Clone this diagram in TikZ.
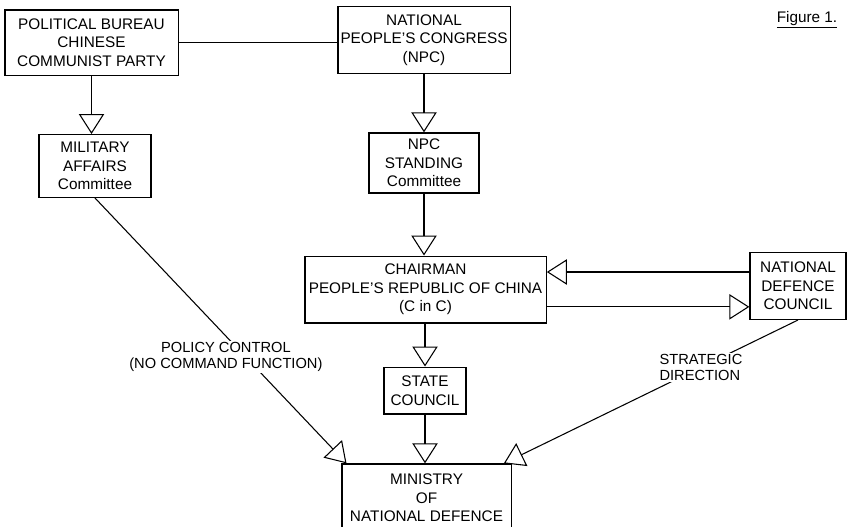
\documentclass[tikz,border=0pt]{standalone}
\usepackage{fontspec}
\setmainfont{Liberation Sans}
\usetikzlibrary{arrows.meta}

\begin{document}
\begin{tikzpicture}[x=0.75pt, y=-0.75pt, every node/.style={align=center, inner sep=2pt, font=\fontsize{11.5}{14}\selectfont}, line width=0.8pt, >={Triangle[open, length=15pt, width=19pt]}]

\tikzstyle{box}=[draw, line width=1pt]
\tikzstyle{lbl}=[fill=white, inner sep=1pt, font=\fontsize{11}{12}\selectfont]

\useasboundingbox (0,0) rectangle (848,526);

% top row
\node[box, minimum width=130pt, minimum height=49pt] (pb) at (91.5,42.5) {POLITICAL BUREAU\\CHINESE\\COMMUNIST PARTY};
\node[box, minimum width=129pt, minimum height=50pt] (npc) at (424,40) {NATIONAL\\PEOPLE'S CONGRESS\\(NPC)};
\node (fig) at (807,20) {\underline{Figure 1.}};

% second row
\node[box, minimum width=84pt, minimum height=47pt] (mac) at (95,166) {MILITARY\\AFFAIRS\\Committee};
\node[box, minimum width=82.5pt, minimum height=45pt] (npcsc) at (424,163) {NPC\\STANDING\\Committee};

% middle
\node[box, minimum width=181pt, minimum height=50pt] (chair) at (425.5,289.5) {CHAIRMAN\\PEOPLE'S REPUBLIC OF CHINA\\(C in C)};
\node[box, minimum width=72pt, minimum height=50pt] (ndc) at (798,286) {NATIONAL\\DEFENCE\\COUNCIL};

% bottom
\node[box, minimum width=61.5pt, minimum height=35pt] (state) at (425,390.5) {STATE\\COUNCIL};
\node[box, minimum width=127pt, minimum height=51pt] (mnd) at (426.5,498) {MINISTRY\\OF\\NATIONAL DEFENCE};

\draw (pb.east) -- (pb.east -| npc.west);
\draw[->] (pb.south) -- (pb.south |- mac.north);
\draw[->] (npc.south) -- (npcsc.north);
\draw[->] (npcsc.south) -- (npcsc.south |- chair.north);
\draw[->] ([yshift=10.5pt]ndc.west) -- ([yshift=10.5pt]ndc.west -| chair.east);
\draw[->] ([yshift=-13pt]chair.east) -- ([yshift=-13pt]chair.east -| ndc.west);
\draw[->] (state.north |- chair.south) -- (state.north);
\draw[->] (state.south) -- (state.south |- mnd.north);
\draw[->] (mac.south) -- node[lbl, pos=0.6, xshift=-15pt] {POLICY CONTROL\\(NO COMMAND FUNCTION)} ([xshift=4pt]mnd.north west);
\draw[->] (ndc.south) -- node[lbl, pos=0.33, align=left] {STRATEGIC\\DIRECTION} ([xshift=-6pt]mnd.north east);

\end{tikzpicture}
\end{document}
